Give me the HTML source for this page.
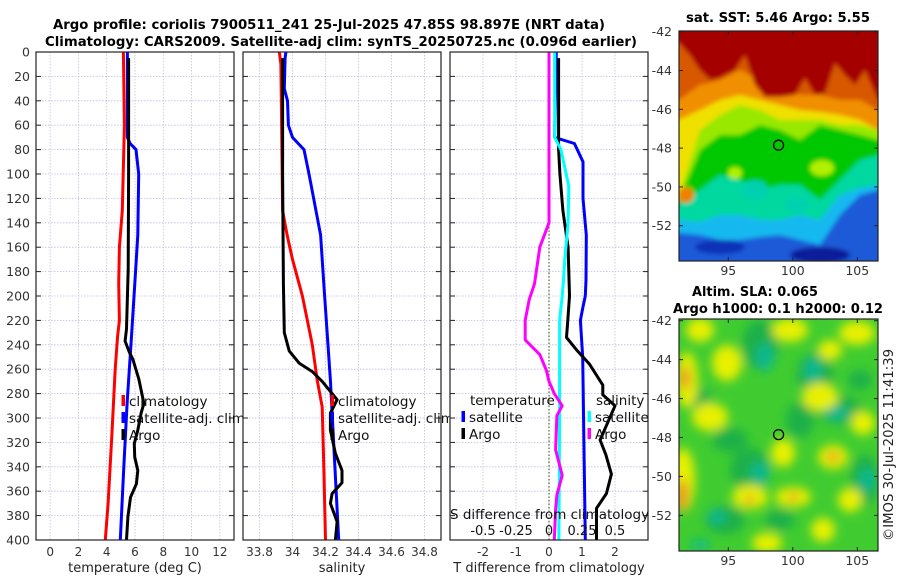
<!DOCTYPE html>
<html><head><meta charset="utf-8">
<style>
html,body{margin:0;padding:0;background:#fff;}
svg{display:block;font-family:"DejaVu Sans","Liberation Sans",sans-serif;}
</style></head>
<body>
<svg id="fig" width="900" height="580" viewBox="0 0 900 580" xmlns="http://www.w3.org/2000/svg">
<defs>
<filter id="blur1" x="-5%" y="-5%" width="110%" height="110%"><feGaussianBlur stdDeviation="2"/></filter>
<filter id="blur2" x="-20%" y="-20%" width="140%" height="140%"><feGaussianBlur stdDeviation="5"/></filter>
<clipPath id="m1clip"><rect x="679" y="31" width="199" height="230"/></clipPath>
<clipPath id="m2clip"><rect x="679" y="319" width="199" height="232"/></clipPath>
</defs>
<rect width="900" height="580" fill="#fff"/>
<text x="329" y="29" text-anchor="middle" font-weight="bold" font-size="13" textLength="552" lengthAdjust="spacingAndGlyphs">Argo profile: coriolis 7900511_241 25-Jul-2025 47.85S 98.897E (NRT data)</text>
<text x="341" y="46" text-anchor="middle" font-weight="bold" font-size="13" textLength="592" lengthAdjust="spacingAndGlyphs">Climatology: CARS2009. Satellite-adj clim: synTS_20250725.nc (0.096d earlier)</text>
<g id="panels"></g>
<g id="maps"></g>
<text transform="translate(893,445) rotate(-90)" text-anchor="middle" font-size="13" fill="#222" textLength="192" lengthAdjust="spacingAndGlyphs">©IMOS 30-Jul-2025 11:41:39</text>
</svg>
<script>
// ---------- DATA ----------
const depthTicks = [0,20,40,60,80,100,120,140,160,180,200,220,240,260,280,300,320,340,360,380,400];
const tempTicks = [0,2,4,6,8,10,12];
const salTicks = [33.8,34,34.2,34.4,34.6,34.8];
const tdiffTicks = [-2,-1,0,1,2];
const sdiffTicks = [-0.5,-0.25,0,0.25,0.5];
const sdiffTickLabels = ["-0.5","-0.25","0","0.25","0.5"];

// Temperature profiles
const tClimDepth = [0,60,130,160,190,220,233,260,315,370,400];
const tClimVal   = [5.18,5.25,5.1,4.9,4.85,4.9,4.77,4.6,4.36,4.1,3.9];
const tSatDepth = [0,70,75,80,100,150,178,233,288,342,400];
const tSatVal   = [5.46,5.46,5.65,6.07,6.26,6.2,6.05,5.75,5.44,5.2,4.96];
const tArgoDepth = [5,100,178,227,237,246,252,268,288,296,310,321,332,343,354,365,381,400];
const tArgoVal   = [5.55,5.55,5.52,5.4,5.3,5.6,5.85,6.27,6.63,6.43,6.2,5.95,5.98,6.2,6.1,5.68,5.5,5.4];

// Salinity profiles
const sClimDepth = [0,10,130,150,170,190,200,240,269,291,340,400];
const sClimVal   = [33.92,33.93,33.94,33.967,34.0,34.04,34.06,34.12,34.15,34.18,34.19,34.2];
const sSatDepth = [0,5,30,40,60,70,80,100,150,190,269,400];
const sSatVal   = [33.96,33.955,33.95,33.97,33.975,34.0,34.07,34.10,34.17,34.19,34.23,34.28];
const sArgoDepth = [5,100,190,230,245,255,262,270,280,285,296,310,329,343,353,362,370,385,400];
const sArgoVal   = [33.94,33.94,33.945,33.95,33.98,34.04,34.12,34.18,34.24,34.27,34.23,34.23,34.26,34.30,34.30,34.24,34.23,34.27,34.26];

// Difference profiles (T in deg C, S in psu)
const dTSatDepth = [0,70,75,90,120,150,187,200,210,220,250,400];
const dTSatVal   = [0.22,0.17,0.77,1.03,1.03,1.13,1.12,1.1,1.02,0.95,1.02,1.1];
const dTArgoDepth = [5,80,100,130,160,200,220,234,244,256,273,281,290,318,330,346,362,374,400];
const dTArgoVal   = [0.29,0.29,0.33,0.42,0.58,0.62,0.57,0.53,0.83,1.23,1.63,1.63,2.0,1.55,1.72,1.89,1.74,1.44,1.44];
const dSSatDepth = [0,70,80,110,140,170,187,200,220,300,400];
const dSSatVal   = [0.043,0.043,0.09,0.15,0.145,0.12,0.11,0.1,0.08,0.08,0.075];
const dSArgoDepth = [0,140,160,190,203,220,236,248,261,270,280,290,298,326,347,363,375,400];
const dSArgoVal   = [0,0,-0.07,-0.11,-0.15,-0.18,-0.18,-0.07,-0.02,0,0.04,0.1,0.06,0.05,0.1,0.06,0.05,0.04];

const mapLatTicks = [-42,-44,-46,-48,-50,-52];
const mapLonTicks = [95,100,105];
const argoLon = 98.897, argoLat = -47.85;

// ---------- HELPERS ----------
const NS = "http://www.w3.org/2000/svg";
function mk(tag, attrs, parent){ const e=document.createElementNS(NS,tag); for(const k in attrs) e.setAttribute(k,attrs[k]); if(parent) parent.appendChild(e); return e; }
const TOP=52, BOT=540;
function yD(d){ return TOP + d*(BOT-TOP)/400; }
function sortPairs(ds, vs){ const p=ds.map((d,i)=>[d,vs[i]]); p.sort((a,b)=>a[0]-b[0]); return p; }
function linePath(ds, vs, xf){ return sortPairs(ds,vs).map((p,i)=>(i?"L":"M")+xf(p[1]).toFixed(1)+","+yD(p[0]).toFixed(1)).join(" "); }

const panelsG = document.getElementById('panels');

function makePanel(name, x0, x1, vmin, vmax, xTicks, xTickLabels, xTitle){
  const g = mk('g',{},panelsG);
  
  
  const xf = v => x0 + (v-vmin)*(x1-x0)/(vmax-vmin);
  const bg = mk('rect',{x:x0,y:TOP,width:x1-x0,height:BOT-TOP,fill:'#fff'},g);
  
  
  depthTicks.forEach(d=>{
    const l = mk('line',{x1:x0,x2:x1,y1:yD(d),y2:yD(d),stroke:'#b8bde8','stroke-width':0.8,'stroke-dasharray':'1.5,1.5'},g);
    
    
  });
  xTicks.forEach((v,i)=>{
    const l = mk('line',{x1:xf(v),x2:xf(v),y1:TOP,y2:BOT,stroke:'#c8bfd8','stroke-width':0.8,'stroke-dasharray':'1.5,1.5'},g);
    
    
    const t = mk('text',{x:xf(v),y:556,'text-anchor':'middle','font-size':12,fill:'#333'},g);
    t.textContent = xTickLabels[i];
    
    
  });
  const tt = mk('text',{x:(x0+x1)/2,y:572,'text-anchor':'middle','font-size':13,fill:'#222'},g);
  tt.textContent = xTitle;
  
  
  return {g, xf, x0, x1};
}
function finishPanel(p){
  const g=p.g;
  depthTicks.forEach(d=>{
    const a = mk('line',{x1:p.x0,x2:p.x0+5,y1:yD(d),y2:yD(d),stroke:'#222','stroke-width':1},g);
    
    
    const b = mk('line',{x1:p.x1-5,x2:p.x1,y1:yD(d),y2:yD(d),stroke:'#222','stroke-width':1},g);
    
    
  });
  const fr = mk('rect',{x:p.x0,y:TOP,width:p.x1-p.x0,height:BOT-TOP,fill:'none',stroke:'#222','stroke-width':1.2},g);
  
  
}
function drawLine(p, name, ds, vs, xf, color, w){
  const e = mk('path',{d:linePath(ds,vs,xf),fill:'none',stroke:color,'stroke-width':w||3,'stroke-linejoin':'round'},p.g);
  
  
}
function legendItem(p, name, x, y, color, label){
  const m = mk('rect',{x:x-1.5,y:y-6,width:3.5,height:11,fill:color},p.g);
  
  
  const t = mk('text',{x:x+6,y:y+5,'font-size':13.5,fill:'#111'},p.g);
  t.textContent = label;
  
  
}

depthTicks.forEach(d=>{
  const t = mk('text',{x:30,y:yD(d)+4.5,'text-anchor':'end','font-size':12.5,fill:'#333'},panelsG);
  t.textContent = d;
  
  
});

const p1 = makePanel('temperature-panel',36,234,-1,13,tempTicks,tempTicks.map(String),'temperature (deg C)');
drawLine(p1,'temp-climatology-line',tClimDepth,tClimVal,p1.xf,'#ff0000');
drawLine(p1,'temp-satellite-adj-line',tSatDepth,tSatVal,p1.xf,'#0000ff');
drawLine(p1,'temp-argo-line',tArgoDepth,tArgoVal,p1.xf,'#000000');
finishPanel(p1);
legendItem(p1,'legend-climatology',123,401,'#ff0000','climatology');
legendItem(p1,'legend-satellite-adj-clim',123,418,'#0000ff','satellite-adj. clim');
legendItem(p1,'legend-argo',123,435,'#000000','Argo');

const p2 = makePanel('salinity-panel',243,441,33.7,34.9,salTicks,["33.8","34","34.2","34.4","34.6","34.8"],'salinity');
drawLine(p2,'sal-climatology-line',sClimDepth,sClimVal,p2.xf,'#ff0000');
drawLine(p2,'sal-satellite-adj-line',sSatDepth,sSatVal,p2.xf,'#0000ff');
drawLine(p2,'sal-argo-line',sArgoDepth,sArgoVal,p2.xf,'#000000');
finishPanel(p2);
legendItem(p2,'legend-climatology-sal',332,401,'#ff0000','climatology');
legendItem(p2,'legend-satellite-adj-clim-sal',332,418,'#0000ff','satellite-adj. clim');
legendItem(p2,'legend-argo-sal',332,435,'#000000','Argo');

const p3 = makePanel('difference-panel',450,648,-3,3,tdiffTicks,tdiffTicks.map(String),'T difference from climatology');
const xS = v => p3.xf(v*4);
const zl = mk('line',{x1:p3.xf(0),x2:p3.xf(0),y1:TOP,y2:BOT,stroke:'#556b2f','stroke-width':1.2,'stroke-dasharray':'1.5,2'},p3.g);


drawLine(p3,'tdiff-satellite-line',dTSatDepth,dTSatVal,p3.xf,'#0000ff');
drawLine(p3,'tdiff-argo-line',dTArgoDepth,dTArgoVal,p3.xf,'#000000');
drawLine(p3,'sdiff-satellite-line',dSSatDepth,dSSatVal,xS,'#00ffff');
drawLine(p3,'sdiff-argo-line',dSArgoDepth,dSArgoVal,xS,'#ff00ff');
finishPanel(p3);
{
  const t1 = mk('text',{x:470,y:405,'font-size':13.5,fill:'#111'},p3.g); t1.textContent='temperature';
  
  
  const t2 = mk('text',{x:596,y:405,'font-size':13.5,fill:'#111'},p3.g); t2.textContent='salinity';
  
  
}
legendItem(p3,'legend-t-satellite',463,417,'#0000ff','satellite');
legendItem(p3,'legend-t-argo',463,434,'#000000','Argo');
legendItem(p3,'legend-s-satellite',589,417,'#00ffff','satellite');
legendItem(p3,'legend-s-argo',589,434,'#ff00ff','Argo');
{
  const t = mk('text',{x:450,y:519,'font-size':13.5,fill:'#111'},panelsG);
  t.textContent='S difference from climatology';
  
  
  sdiffTicks.forEach((v,i)=>{
    const l = mk('text',{x:xS(v),y:535,'text-anchor':'middle','font-size':13,fill:'#111'},panelsG);
    l.textContent = sdiffTickLabels[i];
    
    
  });
}

// ---------- MAPS ----------
const mapsG = document.getElementById('maps');
const MX0=679, MX1=878;
function lonX(lon){ return 728.3 + (lon-95)*12.9; }
function polyTop(xs, ys, yTop){ let d="M"+xs[0]+","+yTop; xs.forEach((x,i)=>{d+=" L"+x+","+ys[i];}); d+=" L"+xs[xs.length-1]+","+yTop+" Z"; return d; }

function mapFrame(g, y0, y1, latY, name){
  const fr = mk('rect',{x:MX0,y:y0,width:MX1-MX0,height:y1-y0,fill:'none',stroke:'#222','stroke-width':1.2},g);
  
  
  mapLatTicks.forEach(lat=>{
    const y = latY(lat);
    mk('line',{x1:MX0,x2:MX0+4,y1:y,y2:y,stroke:'#222'},g);
    mk('line',{x1:MX1-4,x2:MX1,y1:y,y2:y,stroke:'#222'},g);
    const t = mk('text',{x:672,y:y+4.5,'text-anchor':'end','font-size':12.5,fill:'#333'},g);
    t.textContent = lat;
    
    
  });
  mapLonTicks.forEach(lon=>{
    const x = lonX(lon);
    mk('line',{x1:x,x2:x,y1:y0,y2:y0+4,stroke:'#222'},g);
    mk('line',{x1:x,x2:x,y1:y1-4,y2:y1,stroke:'#222'},g);
    const t = mk('text',{x:x,y:y1+14,'text-anchor':'middle','font-size':12.5,fill:'#333'},g);
    t.textContent = lon;
    
    
  });
  const c = mk('circle',{cx:lonX(argoLon),cy:latY(argoLat),r:5,fill:'none',stroke:'#000','stroke-width':1.3},g);
  
  
}

{
  const g = mk('g',{},mapsG);
  
  
  const latY = lat => 31.7 + (-42-lat)*19.4;
  const img = mk('g',{'clip-path':'url(#m1clip)'},g);
  const f = mk('g',{filter:'url(#blur1)'},img);
  mk('rect',{x:670,y:25,width:220,height:245,fill:'#1a5ad8'},f);
  mk('ellipse',{cx:820,cy:255,rx:30,ry:8,fill:'#0a1a98'},f);
  mk('ellipse',{cx:720,cy:247,rx:25,ry:7,fill:'#1030b8'},f);
  const xs=[670,679,700,720,740,760,780,800,820,840,860,878,890];
  const bands = [
    ['#18b8f0',[232,233,235,240,240,237,235,240,245,215,195,190,190]],
    ['#00d8a0',[222,220,222,215,215,220,220,215,220,195,188,185,185]],
    ['#00c800',[210,205,190,175,180,190,185,185,200,180,160,155,155]],
    ['#98e800',[200,200,150,135,135,125,130,140,125,130,135,140,140]],
    ['#f0e000',[200,195,130,115,105,110,120,120,120,125,125,130,130]],
    ['#f09000',[120,120,110,100,95,100,105,110,112,115,120,130,130]],
    ['#d85800',[100,100,85,80,70,80,90,95,95,100,100,110,110]]
  ];
  bands.forEach(b=>{ mk('path',{d:polyTop(xs,b[1],20),fill:b[0]},f); });
  mk('ellipse',{cx:755,cy:190,rx:13,ry:10,fill:'#00d0b0'},f);
  mk('ellipse',{cx:797,cy:205,rx:12,ry:7,fill:'#00d0b0'},f);
  mk('ellipse',{cx:735,cy:173,rx:7,ry:6,fill:'#b0f000'},f);
  mk('ellipse',{cx:822,cy:168,rx:12,ry:8,fill:'#b0f000'},f);
  mk('ellipse',{cx:686,cy:195,rx:8,ry:8,fill:'#f08000'},f);
  const rxs=[670,679,690,700,710,720,735,745,755,765,780,795,805,815,825,835,845,855,865,878,890];
  const rys=[43,43,55,70,80,78,70,55,85,97,97,95,78,95,93,63,75,85,70,100,100];
  mk('path',{d:polyTop(rxs,rys,20),fill:'#a40000'},f);
  mapFrame(g,31,261,latY,'sst-map');
  const t = mk('text',{x:778,y:22,'text-anchor':'middle','font-weight':'bold','font-size':13,textLength:184,lengthAdjust:'spacingAndGlyphs'},g);
  t.textContent='sat. SST: 5.46 Argo: 5.55';
  
  
}
{
  const g = mk('g',{},mapsG);
  
  
  const latY = lat => 320.7 + (-42-lat)*19.47;
  const img = mk('g',{'clip-path':'url(#m2clip)'},g);
  mk('rect',{x:670,y:310,width:220,height:250,fill:'#40cc30'},img);
  const f = mk('g',{filter:'url(#blur2)'},img);
  const dark = [[760,345,18,25],[815,375,18,22],[750,470,20,22],[725,520,20,14],[840,410,22,14],[730,440,18,12],[865,480,14,25],[700,400,12,12],[800,420,14,18],[860,380,12,10],[780,520,15,10]];
  dark.forEach(e=>mk('ellipse',{cx:e[0],cy:e[1],rx:e[2],ry:e[3],fill:'#1cb048'},f));
  const yel = [[687,380,11,28],[727,363,15,18],[790,330,18,12],[820,397,18,14],[833,457,15,12],[863,423,12,12],[683,480,12,32],[750,497,18,12],[793,497,18,10],[783,453,12,14],[823,530,12,12],[710,417,18,14],[857,333,18,12],[850,500,12,12],[767,543,15,10],[700,330,14,12],[830,350,12,10]];
  yel.forEach(e=>mk('ellipse',{cx:e[0],cy:e[1],rx:e[2],ry:e[3],fill:'#e8f000'},f));
  const org = [[682,495,6,16],[685,378,5,12],[833,457,6,5],[750,500,5,4],[793,497,5,4]];
  org.forEach(e=>mk('ellipse',{cx:e[0],cy:e[1],rx:e[2],ry:e[3],fill:'#e89020'},f));
  const teal = [[765,357,9,14],[813,370,9,12],[760,473,9,11],[717,517,9,7],[837,413,12,7],[867,480,8,12],[700,545,10,5]];
  teal.forEach(e=>mk('ellipse',{cx:e[0],cy:e[1],rx:e[2],ry:e[3],fill:'#10b890'},f));
  mapFrame(g,319,551,latY,'sla-map');
  const t1 = mk('text',{x:755,y:296,'text-anchor':'middle','font-weight':'bold','font-size':13,textLength:126,lengthAdjust:'spacingAndGlyphs'},g);
  t1.textContent='Altim. SLA: 0.065';
  
  
  const t2 = mk('text',{x:778,y:313,'text-anchor':'middle','font-weight':'bold','font-size':13,textLength:210,lengthAdjust:'spacingAndGlyphs'},g);
  t2.textContent='Argo h1000: 0.1 h2000: 0.12';
  
  
}
</script>
</body></html>
